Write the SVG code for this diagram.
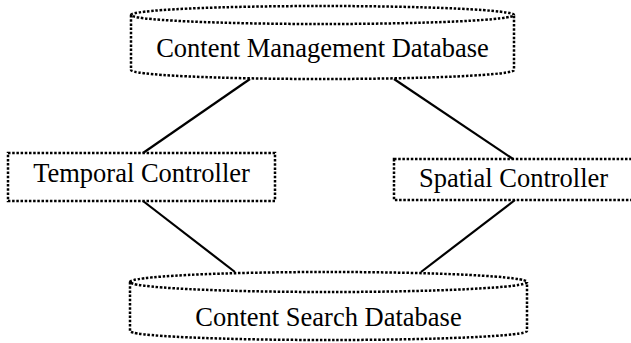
<svg xmlns="http://www.w3.org/2000/svg" width="631" height="343" viewBox="0 0 631 343">
<style>
.dot{fill:none;stroke:#000;stroke-width:2.5;stroke-dasharray:2.5 1.7}
.lbl{font-family:"Liberation Serif","Times New Roman",serif;font-size:26.5px;fill:#000}
.conn{stroke:#000;stroke-width:2.2;fill:none}
</style>
<rect width="631" height="343" fill="#fff"/>
<g id="connectors">
<line class="conn" x1="250" y1="79" x2="143" y2="153"/>
<line class="conn" x1="394" y1="79" x2="513" y2="159"/>
<line class="conn" x1="143" y1="201" x2="235" y2="272"/>
<line class="conn" x1="515" y1="200" x2="421" y2="272"/>
</g>
<g id="cmdb">
<path class="dot" d="M131 15 A191.5 9 0 0 1 514 15 A191.5 9 0 0 1 131 15 Z M131 15 L131 70 A191.5 9 0 0 0 514 70 L514 15"/>
<text class="lbl" x="322.5" y="57" text-anchor="middle">Content Management Database</text>
</g>
<g id="temporal">
<rect class="dot" x="8" y="153" width="267" height="48"/>
<text class="lbl" x="141.5" y="182" text-anchor="middle">Temporal Controller</text>
</g>
<g id="spatial">
<rect class="dot" x="394" y="159" width="250" height="41"/>
<text class="lbl" x="419" y="187">Spatial Controller</text>
</g>
<g id="csdb">
<path class="dot" d="M130 282 A198.5 10 0 0 1 527 282 A198.5 10 0 0 1 130 282 Z M130 282 L130 331 A198.5 9 0 0 0 527 331 L527 282"/>
<text class="lbl" x="328.5" y="326" text-anchor="middle">Content Search Database</text>
</g>
</svg>
